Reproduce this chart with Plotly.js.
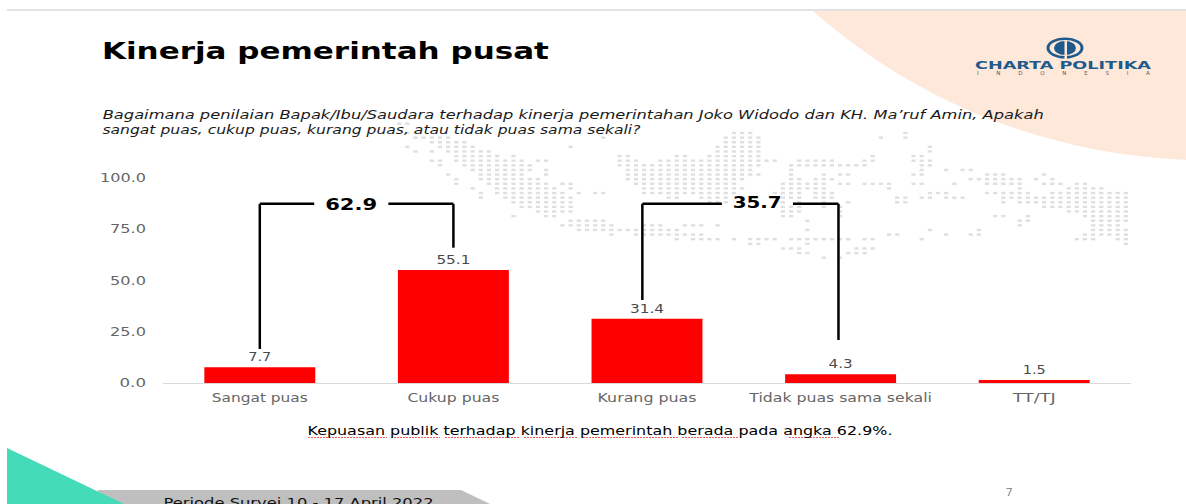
<!DOCTYPE html>
<html><head><meta charset="utf-8">
<script src="https://cdn.plot.ly/plotly-3.0.1.min.js"></script>
<style>html,body{margin:0;padding:0;background:#fff;overflow:hidden}#c{width:1186px;height:504px}</style>
</head><body><div id="c"></div>
<script>
const W = 1186, H = 504;
const categories = ["Sangat puas", "Cukup puas", "Kurang puas", "Tidak puas sama sekali", "TT/TJ"];
const values = [7.7, 55.1, 31.4, 4.3, 1.5];
const yTicks = [0, 25, 50, 75, 100];
const bracketLabels = ["62.9", "35.7"];
const titleText = "Kinerja pemerintah pusat";
const questionLines = [
  "Bagaimana penilaian Bapak/Ibu/Saudara terhadap kinerja pemerintahan Joko Widodo dan KH. Ma’ruf Amin, Apakah",
  "sangat puas, cukup puas, kurang puas, atau tidak puas sama sekali?"
];
const noteText = "Kepuasan publik terhadap kinerja pemerintah berada pada angka 62.9%.";
const periodText = "Periode Survei 10 - 17 April 2022";
// decorative dot map: row index, then column runs
const mapRows = [
  [-2,"-1-0"],[0,"0-1 40-42 61"],[1,"1-5 24 39-43 58 61"],[2,"3-7 39-43"],[3,"0 4-8 20 38-43 64"],
  [4,"1 3 5-10 38-43 64"],[5,"6-11 13 26-27 33-34 37-43 57 62-63"],
  [6,"3-4 6-14 16-17 26-28 31-45 48-52 56-57 62-64"],
  [7,"4 7-15 26-43 47-56 63-64"],[8,"8-15 17 27-42 47 63 66 68-69"],
  [9,"5 9-14 17 27-43 47 51 53-54 62-63 71-73 78"],
  [10,"6 9-16 27-41 47-48 50-52 69-75 77 79"],
  [11,"6 10-17 19-20 28-40 46-51 53-54 56-59 62-63 67 71-75 78-80 82-83"],
  [12,"8 11-18 20 29-41 46-51 59 75 81-85"],
  [13,"9 11-19 21 23-24 29-40 45-48 50-52 64-66 71-76 79-88"],
  [14,"9 12-20 32-33 36-39 46-48 50-52 60-61 63-64 66-68 73-88"],
  [15,"13-20 37-39 46 48 51 54 60-61 73 75-88"],
  [16,"14-20 46-48 51 53 78-88"],[17,"16-20 46-48 53 81-88"],
  [18,"13 17-18 46-47 53 72-73 76 83-88"],[19,"20-24 49 75-76 84-88"],
  [20,"19-25 29-31 34-36 38 75 84-87"],[21,"21-33 49 64 70 84-88"],
  [22,"25 28-36 59-60 66 69-70 83-88"],[23,"33 35-38 40 42-45 47-54 56-57 63 82-84 87-88"],
  [24,"42-43 49 88"],[25,"46-48 55-57"],[26,"48-49 54-56"],[27,"51 53"]
];

const px = v => v / W, py = v => 1 - v / H;
const plotL = 163, plotR = 1131, plotT = 178, plotB = 383;
const mapX = [], mapY = [];
mapRows.forEach(([row, runs]) => runs.split(" ").forEach(run => {
  const m = run.match(/^(-?\d+)(?:-(\d+))?$/);
  const a = +m[1], b = m[2] === undefined ? a : +m[2];
  for (let c = a; c <= b; c++) { mapX.push(c); mapY.push(row); }
}));
const colPx = 8.165, col0 = 407.3, rowPx = 4.617, row0 = 133;
const fam = "DejaVu Sans";

const data = [
  { type: "scatter", mode: "markers", x: mapX, y: mapY, xaxis: "x", yaxis: "y", hoverinfo: "skip",
    marker: { symbol: "line-ew", size: 3, color: "#dfdfdf", line: { color: "#dfdfdf", width: 2.4 } } },
  { type: "bar", x: categories, y: values, xaxis: "x2", yaxis: "y2", marker: { color: "#ff0000" },
    text: values.map(v => v.toFixed(1)), textposition: "outside", cliponaxis: false,
    textfont: { family: fam, size: 11.5, color: "#4a4a4a" }, hoverinfo: "skip" }
];

const topV = 87.4;
const line = (cat0, off0, v0, cat1, off1, v1) => ({
  type: "line", xref: "x2", yref: "y2", x0: cat0 + off0, x1: cat1 + off1, y0: v0, y1: v1,
  line: { color: "#000", width: 2.5 }, layer: "above" });
const wig = (a, b) => ({ type: "line", xref: "paper", yref: "paper", x0: px(a), x1: px(b), y0: py(437.5), y1: py(437.5),
  line: { color: "#e8605c", width: 1, dash: "2px,1px" }, layer: "above" });
const poly = (pts, fill) => ({ type: "path", xref: "paper", yref: "paper", layer: "below", fillcolor: fill,
  line: { width: 0 }, path: pts });
const P = (x, y) => px(x) + "," + py(y);
const ell = (cx, cy, rx, ry, fill) => ({ type: "circle", xref: "paper", yref: "paper", x0: px(cx - rx), x1: px(cx + rx),
  y0: py(cy + ry), y1: py(cy - ry), fillcolor: fill, line: { width: 0 }, layer: "below" });
const peach = "#fee8da", blue = "#1f5a8c";

const shapes = [
  poly(`M${P(813,11)} C${P(916.5,102.6)} ${P(1048,154.5)} ${P(1186,160)} L${P(1186,11)} Z`, peach),
  { type: "line", xref: "paper", yref: "paper", x0: px(7), x1: px(1186), y0: py(10), y1: py(10), line: { color: "#d9d9d9", width: 1.5 }, layer: "below" },
  poly(`M${P(98,490)} L${P(461,490)} L${P(490,504)} L${P(98,504)} Z`, "#bfbfbf"),
  poly(`M${P(7,448)} L${P(124,504)} L${P(7,504)} Z`, "#44dcb8"),
  ell(1065, 48, 18.5, 10.5, blue), ell(1065, 48, 15.5, 8, peach), ell(1065, 48, 11, 7, blue),
  { type: "rect", xref: "paper", yref: "paper", x0: px(1064.5), x1: px(1067), y0: py(59), y1: py(40), fillcolor: peach, line: { width: 0 }, layer: "below" },
  // brackets
  line(0, 0, topV, 0, 0, 16.6), line(0, 0, topV, 0, 0.281, topV), line(1, -0.336, topV, 1, 0, topV), line(1, 0, topV, 1, 0, 66),
  line(2, -0.024, topV, 2, -0.024, 40.5), line(2, -0.024, topV, 2, 0.387, topV), line(3, -0.246, topV, 3, -0.011, topV), line(3, -0.011, topV, 3, -0.011, 21),
  wig(308,387), wig(391,440), wig(445,519), wig(524,578), wig(583,678), wig(682,738), wig(789,839)
];

const ann = (cx, y, text, size, color, opts = {}) => ({
  xref: "paper", yref: "paper", x: px(cx), y: py(y), text, showarrow: false, xanchor: "center", yanchor: "middle",
  font: Object.assign({ family: fam, size, color }, opts) });
const annotations = [
  ann(325.5, 51, titleText, 23.5, "#000", { weight: 700 }),
  ann(572.5, 115, questionLines[0], 12, "#1a1a1a", { style: "italic" }),
  ann(371, 130, questionLines[1], 12, "#1a1a1a", { style: "italic" }),
  ann(351, 205, bracketLabels[0], 15.5, "#000", { weight: 700 }),
  ann(757.4, 203, bracketLabels[1], 15.5, "#000", { weight: 700 }),
  ann(600.5, 431, noteText, 12.3, "#000"),
  ann(298, 502.5, periodText, 13, "#111"),
  ann(1009, 492.5, "7", 10, "#8c8c8c"),
  ann(1063, 65.5, "CHARTA POLITIKA", 10, blue, { weight: 700 }),
  ann(1063, 73, "INDONESIA", 5.5, "#555")
];

// The reference is a horizontally stretched slide image: target text widths in px.
const textWidths = {
  [titleText]: 447, [questionLines[0]]: 941, [questionLines[1]]: 538,
  [bracketLabels[0]]: 52, [bracketLabels[1]]: 49, [noteText]: 585, [periodText]: 270,
  "7": 7.5, "CHARTA POLITIKA": 176,
  "Sangat puas": 96, "Cukup puas": 92, "Kurang puas": 99, "Tidak puas sama sekali": 182.5, "TT/TJ": 43,
  "100.0": 46, "75.0": 36, "50.0": 36, "25.0": 36, "0.0": 26.5,
  "7.7": 23, "55.1": 34, "31.4": 34, "4.3": 24, "1.5": 23
};
const stretch = () => {
  document.querySelectorAll("#c svg text").forEach(t => {
    const s = t.textContent;
    if (s === "INDONESIA") { t.setAttribute("textLength", 173); t.setAttribute("lengthAdjust", "spacing"); }
    else if (textWidths[s]) { t.setAttribute("textLength", textWidths[s]); t.setAttribute("lengthAdjust", "spacingAndGlyphs"); }
  });
};

const layout = {
  width: W, height: H, margin: { l: 0, r: 0, t: 0, b: 0 }, paper_bgcolor: "#fff", plot_bgcolor: "rgba(0,0,0,0)",
  showlegend: false, bargap: 0.427,
  xaxis: { domain: [0, 1], range: [-col0 / colPx, (W - col0) / colPx], visible: false, fixedrange: true },
  yaxis: { domain: [0, 1], range: [(H - row0) / rowPx, -row0 / rowPx], visible: false, fixedrange: true },
  xaxis2: { anchor: "y2", domain: [px(plotL), px(plotR)], type: "category", categoryorder: "array", categoryarray: categories,
    showgrid: false, zeroline: false, showline: true, linecolor: "#d9d9d9", linewidth: 1.2, ticks: "", ticklabelstandoff: 3,
    tickfont: { family: fam, size: 12.5, color: "#666666" }, fixedrange: true },
  yaxis2: { anchor: "x2", domain: [1 - plotB / H, 1 - plotT / H], range: [0, 100], tickvals: yTicks, ticktext: yTicks.map(v => v.toFixed(1)),
    showgrid: false, zeroline: false, showline: false, ticks: "", ticklabelstandoff: 16,
    tickfont: { family: fam, size: 11.5, color: "#666666" }, fixedrange: true },
  shapes, annotations
};
Plotly.newPlot("c", data, layout, { displayModeBar: false, staticPlot: true }).then(stretch);
stretch();
</script></body></html>
